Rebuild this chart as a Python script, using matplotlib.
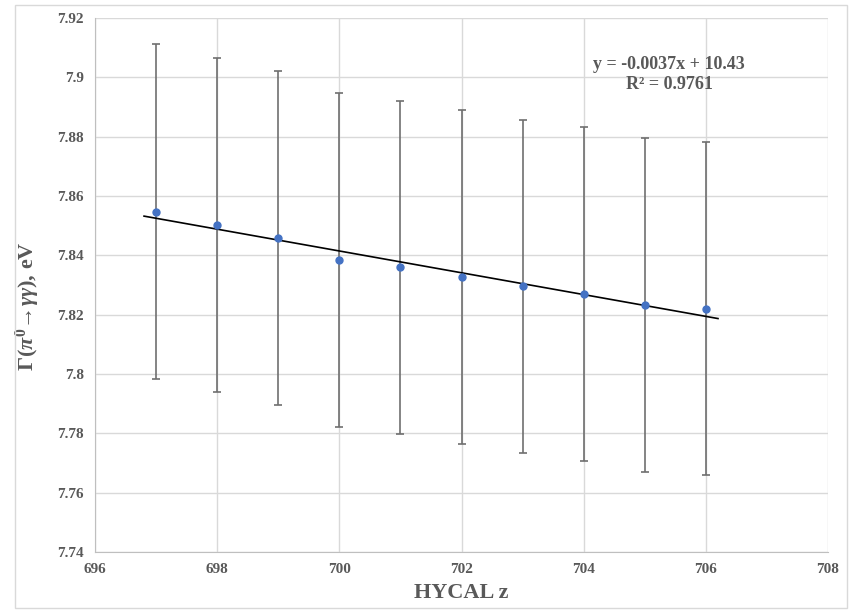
import numpy as np
import matplotlib
matplotlib.use('Agg')
import matplotlib.pyplot as plt
from matplotlib.patches import Rectangle

# data
hycal_z = [697, 698, 699, 700, 701, 702, 703, 704, 705, 706]
width = [7.8547, 7.8502, 7.8457, 7.8385, 7.8360, 7.8327, 7.8296, 7.8270, 7.8233, 7.8220]
err = [0.0565, 0.0564, 0.0563, 0.0564, 0.0562, 0.0563, 0.0562, 0.0562, 0.0562, 0.0562]
x_ticks = [696, 698, 700, 702, 704, 706, 708]
y_ticks = [7.74, 7.76, 7.78, 7.80, 7.82, 7.84, 7.86, 7.88, 7.90, 7.92]

txt = '#595959'
serif = ['Liberation Serif', 'DejaVu Serif']
plt.rcParams['font.family'] = serif
plt.rcParams['mathtext.fontset'] = 'custom'
plt.rcParams['mathtext.rm'] = 'Liberation Serif:bold'
plt.rcParams['mathtext.it'] = 'Liberation Serif:italic:bold'
plt.rcParams['mathtext.bf'] = 'Liberation Serif:bold'

fig = plt.figure(figsize=(8.5, 6.13), dpi=100)
ax = fig.add_axes([0.112, 0.0995, 0.862, 0.871])

# outer chart border
fig.patches.append(Rectangle((0.018, 0.008), 0.979, 0.984, transform=fig.transFigure,
                             fill=False, edgecolor='#d9d9d9', linewidth=1))

ax.errorbar(hycal_z, width, yerr=err, fmt='none', ecolor='#6f6f6f',
            elinewidth=1.2, capsize=3, capthick=1.2, zorder=2)
ax.plot(hycal_z, width, 'o', color='#4472c4', markersize=5, zorder=4)

# linear trendline, extended slightly like Excel
k, b = np.polyfit(hycal_z, width, 1)
xs = np.array([hycal_z[0] - 0.2, hycal_z[-1] + 0.2])
ax.plot(xs, k * xs + b, color='black', linewidth=1.2, zorder=3)

ax.text(705.4, 7.9045, 'y = -0.0037x + 10.43', ha='center', va='center',
        fontsize=13, fontweight='bold', color=txt)
ax.text(705.4, 7.8975, 'R² = 0.9761', ha='center', va='center',
        fontsize=13, fontweight='bold', color=txt)

ax.set_xlim(696, 708)
ax.set_ylim(7.74, 7.92)
ax.set_xticks(x_ticks)
ax.set_yticks(y_ticks)
ax.set_yticklabels(['%g' % v for v in y_ticks])
ax.grid(True, color='#d9d9d9', linewidth=1)
ax.set_axisbelow(True)
ax.tick_params(length=0, labelsize=11, colors=txt, pad=8)
for lab in ax.get_xticklabels() + ax.get_yticklabels():
    lab.set_fontweight('bold')

for s in ['top', 'right']:
    ax.spines[s].set_visible(False)
for s in ['left', 'bottom']:
    ax.spines[s].set_color('#bfbfbf')

ax.set_xlabel('HYCAL z', fontsize=16, fontweight='bold', color=txt, labelpad=5)
ax.set_ylabel(r'Γ($\pi^{\mathbf{0}}$→$\gamma\gamma$), eV', fontsize=16,
              fontweight='bold', color=txt)
ax.yaxis.set_label_coords(-0.072, 0.46)

fig.savefig('out.png', dpi=100)
